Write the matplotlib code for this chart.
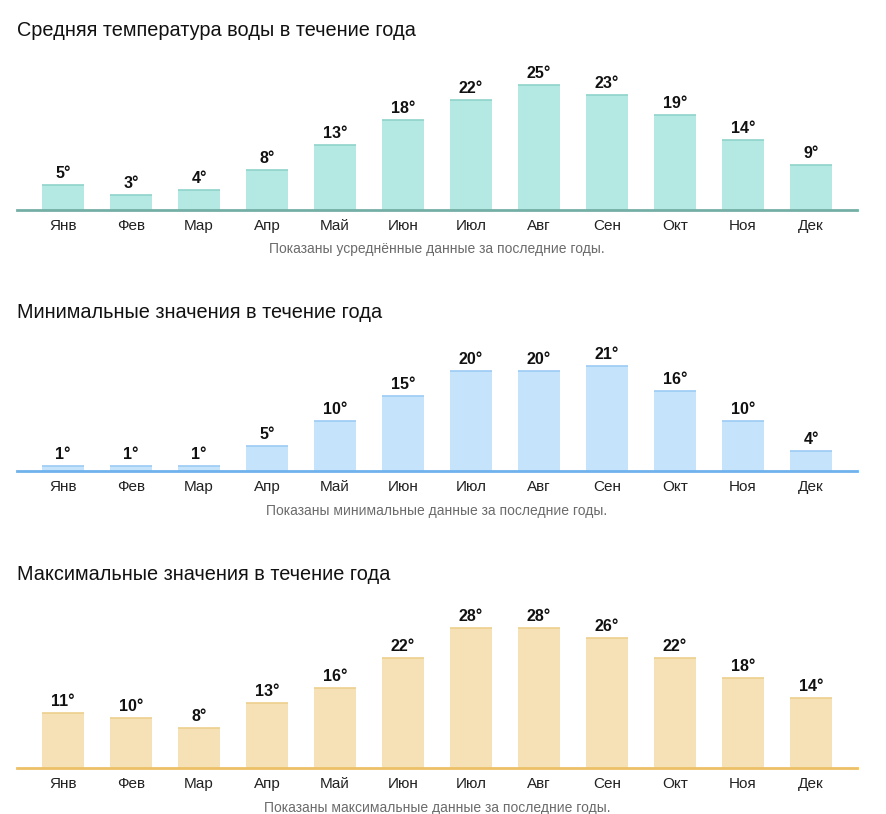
import matplotlib.pyplot as plt
import numpy as np

plt.rcParams['font.family'] = ['Liberation Sans', 'DejaVu Sans']

months = ['Янв', 'Фев', 'Мар', 'Апр', 'Май', 'Июн', 'Июл', 'Авг', 'Сен', 'Окт', 'Ноя', 'Дек']
avg_temp = [5, 3, 4, 8, 13, 18, 22, 25, 23, 19, 14, 9]
min_temp = [1, 1, 1, 5, 10, 15, 20, 20, 21, 16, 10, 4]
max_temp = [11, 10, 8, 13, 16, 22, 28, 28, 26, 22, 18, 14]

titles = ['Средняя температура воды в течение года',
          'Минимальные значения в течение года',
          'Максимальные значения в течение года']
notes = ['Показаны усреднённые данные за последние годы.',
         'Показаны минимальные данные за последние годы.',
         'Показаны максимальные данные за последние годы.']

W, H = 886, 814
fig = plt.figure(figsize=(W / 100, H / 100), dpi=100)

# (values, fill, top edge, axis line, baseline px, title y px, note y px)
panels = [
    (avg_temp, '#b3e9e2', '#8fd3ca', '#74afa6', 210, 30, 249),
    (min_temp, '#c5e3fb', '#9ccbf3', '#6fb2ec', 471, 312, 511),
    (max_temp, '#f5e1b5', '#edd08e', '#ecc066', 768, 575, 808),
]

x = np.arange(len(months))
bw = 42 / 68
left_px, right_px = 17, 857
ax_h = 150  # px for 30 degrees

for (vals, fill, edge, line, base, ty, ny), title, note in zip(panels, titles, notes):
    ax = fig.add_axes([left_px / W, 1 - base / H, (right_px - left_px) / W, ax_h / H])
    ax.bar(x, vals, bw, color=fill, edgecolor='none', zorder=2)
    ax.hlines(vals, x - bw / 2, x + bw / 2, color=edge, lw=1.2, zorder=3)
    for i, v in enumerate(vals):
        ax.annotate(f'{v}°', (i, v), xytext=(0, 3), textcoords='offset points',
                    ha='center', va='bottom', fontsize=11.5, fontweight='bold', color='#111111')
    ax.set_xlim((left_px - 63) / 68, (right_px - 63) / 68)
    ax.set_ylim(0, 30)
    for s in ['top', 'left', 'right']:
        ax.spines[s].set_visible(False)
    ax.spines['bottom'].set_color(line)
    ax.spines['bottom'].set_linewidth(2)
    ax.spines['bottom'].set_zorder(4)
    ax.set_yticks([])
    ax.set_xticks(x, months)
    ax.tick_params(axis='x', length=0, pad=6.5, labelsize=11, labelcolor='#222222')
    ax.patch.set_visible(False)

    fig.text(left_px / W, 1 - ty / H, title, fontsize=14.3, color='#111111', va='center', ha='left')
    fig.text(437 / W, 1 - ny / H, note, fontsize=10, color='#6b6b6b', va='center', ha='center')

fig.savefig('out.png', dpi=100)
